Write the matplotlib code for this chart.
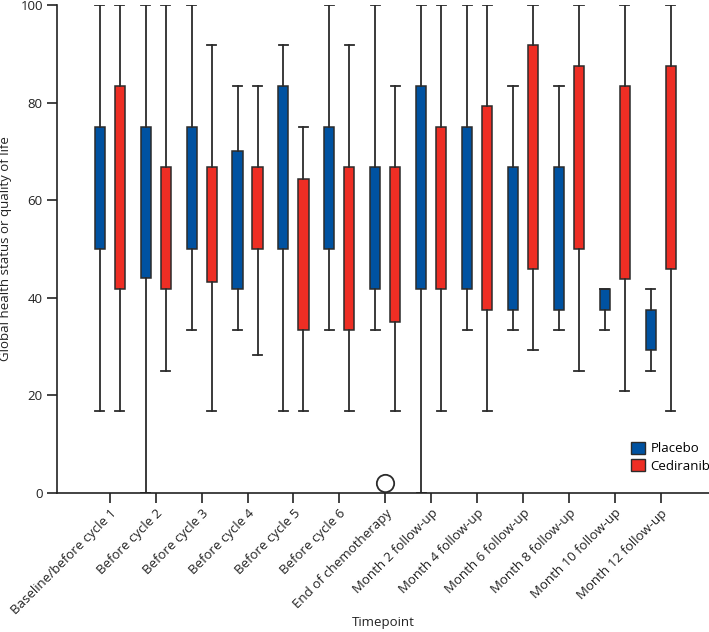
import matplotlib
matplotlib.use("Agg")
import matplotlib.pyplot as plt
from matplotlib.patches import Patch
import numpy as np

plt.rcParams['font.family'] = ['Open Sans', 'DejaVu Sans']

timepoints = ["Baseline/before cycle 1", "Before cycle 2", "Before cycle 3", "Before cycle 4",
              "Before cycle 5", "Before cycle 6", "End of chemotherapy", "Month 2 follow-up",
              "Month 4 follow-up", "Month 6 follow-up", "Month 8 follow-up",
              "Month 10 follow-up", "Month 12 follow-up"]

placebo_whislo = [16.7, 0.0, 33.3, 33.3, 16.7, 33.3, 33.3, 0.0, 33.3, 33.3, 33.3, 33.3, 25.0]
placebo_q1     = [50.0, 44.0, 50.0, 41.7, 50.0, 50.0, 41.7, 41.7, 41.7, 37.5, 37.5, 37.5, 29.2]
placebo_q3     = [75.0, 75.0, 75.0, 70.0, 83.3, 75.0, 66.7, 83.3, 75.0, 66.7, 66.7, 41.7, 37.5]
placebo_whishi = [100, 100, 100, 83.3, 91.7, 100, 100, 100, 100, 83.3, 83.3, 41.7, 41.7]

ced_whislo = [16.7, 25.0, 16.7, 28.3, 16.7, 16.7, 16.7, 16.7, 16.7, 29.2, 25.0, 20.8, 16.7]
ced_q1     = [41.7, 41.7, 43.3, 50.0, 33.3, 33.3, 35.0, 41.7, 37.5, 45.8, 50.0, 43.8, 45.8]
ced_q3     = [83.3, 66.7, 66.7, 66.7, 64.3, 66.7, 66.7, 75.0, 79.2, 91.7, 87.5, 83.3, 87.5]
ced_whishi = [100, 100, 91.7, 83.3, 75.0, 91.7, 83.3, 100, 100, 100, 100, 100, 100]

outlier_timepoint = "End of chemotherapy"
outlier_value = 1.9

blue = "#0052A1"
red = "#EE2E24"
edge = "#2b2b2b"

fig = plt.figure(figsize=(7.09, 6.32), dpi=100)
ax = fig.add_axes([0.081, 0.2204, 0.919, 0.7717])

x = np.arange(len(timepoints))
off = 0.218
bw = 0.22
capw = 0.2

def stats(lo, q1, q3, hi):
    return [dict(whislo=a, q1=b, med=b, q3=c, whishi=d, fliers=[]) for a, b, c, d in zip(lo, q1, q3, hi)]

for st, pos, col in [(stats(placebo_whislo, placebo_q1, placebo_q3, placebo_whishi), x - off, blue),
                     (stats(ced_whislo, ced_q1, ced_q3, ced_whishi), x + off, red)]:
    ax.bxp(st, positions=pos, widths=bw, capwidths=capw, patch_artist=True, showfliers=False,
           boxprops=dict(facecolor=col, edgecolor=edge, linewidth=1.1),
           whiskerprops=dict(color=edge, linewidth=1.3),
           capprops=dict(color=edge, linewidth=1.3),
           medianprops=dict(visible=False), manage_ticks=False, zorder=2)

oi = timepoints.index(outlier_timepoint)
ax.plot([x[oi]], [outlier_value], marker='o', markersize=12.5, markerfacecolor='white',
        markeredgecolor=edge, markeredgewidth=1.3, linestyle='none', zorder=3, clip_on=False)

ax.set_xlim(-1.14, 13.05)
ax.set_ylim(0, 100)
ax.set_yticks([0, 20, 40, 60, 80, 100])
ax.set_xticks(x)
ax.set_xticklabels(timepoints, rotation=45, ha='right', rotation_mode='anchor', fontsize=9.5, color='#222222')
ax.tick_params(axis='y', length=7, width=1.2, labelsize=9.5, labelcolor='#222222', color='#222222')
ax.tick_params(axis='x', length=7, width=1.2, color='#222222', pad=3)
for s in ['top', 'right']:
    ax.spines[s].set_visible(False)
for s in ['left', 'bottom']:
    ax.spines[s].set_linewidth(1.2)
    ax.spines[s].set_color('#222222')

ax.set_ylabel("Global health status or quality of life", fontsize=9.5, color='#222222')
ax.yaxis.set_label_coords(-0.069, 0.5)
ax.set_xlabel("Timepoint", fontsize=9.5, color='#222222', va='center')
ax.xaxis.set_label_coords(0.5, -0.267)

handles = [Patch(facecolor=blue, edgecolor=edge, label="Placebo"),
           Patch(facecolor=red, edgecolor=edge, label="Cediranib")]
ax.legend(handles=handles, loc='lower right', bbox_to_anchor=(1.01, 0.03), frameon=False,
          fontsize=9.5, handlelength=1.1, handleheight=1.0, handletextpad=0.4, labelspacing=0.3,
          borderaxespad=0.0)

fig.savefig("out.png", dpi=100)
